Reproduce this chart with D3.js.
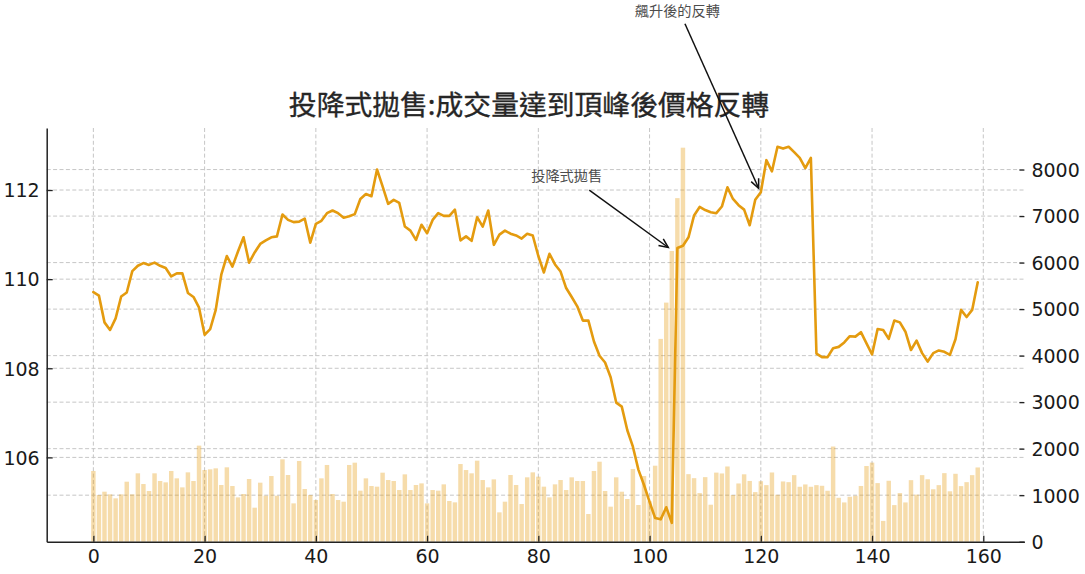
<!DOCTYPE html>
<html>
<head>
<meta charset="utf-8">
<script src="https://cdn.jsdelivr.net/npm/d3@7"></script>
<style>
  html, body { margin: 0; padding: 0; background: #ffffff; }
  svg { display: block; }
</style>
</head>
<body>
<svg id="chart" width="1085" height="574"></svg>
<script>
// ---------------- data ----------------
const titleText = "投降式拋售:成交量達到頂峰後價格反轉";

const price = [
  109.71, 109.63, 109.03, 108.86, 109.12, 109.61, 109.70, 110.18, 110.30, 110.36,
  110.32, 110.37, 110.30, 110.25, 110.06, 110.13, 110.13, 109.69, 109.60, 109.36,
  108.75, 108.88, 109.31, 110.10, 110.52, 110.28, 110.62, 110.94, 110.37, 110.60,
  110.79, 110.87, 110.94, 110.96, 111.45, 111.33, 111.28, 111.29, 111.36, 110.82,
  111.24, 111.31, 111.48, 111.54, 111.48, 111.38, 111.41, 111.46, 111.80, 111.91,
  111.86, 112.46, 112.08, 111.69, 111.78, 111.71, 111.18, 111.09, 110.88, 111.22,
  111.03, 111.33, 111.48, 111.42, 111.42, 111.56, 110.87, 110.96, 110.86, 111.39,
  111.18, 111.54, 110.77, 111.00, 111.09, 111.02, 110.98, 110.91, 111.02, 110.98,
  110.52, 110.15, 110.57, 110.33, 110.17, 109.80, 109.60, 109.39, 109.07, 109.07,
  108.60, 108.28, 108.13, 107.80, 107.23, 107.14, 106.61, 106.24, 105.72, 105.38,
  105.00, 104.64, 104.61, 104.88, 104.53, 110.70, 110.75, 110.94, 111.43, 111.62,
  111.55, 111.50, 111.48, 111.63, 112.06, 111.80, 111.66, 111.56, 111.21, 111.78,
  111.95, 112.67, 112.42, 112.97, 112.93, 112.97, 112.85, 112.72, 112.49, 112.72,
  108.33, 108.25, 108.25, 108.45, 108.48, 108.58, 108.72, 108.71, 108.81, 108.56,
  108.31, 108.88, 108.86, 108.66, 109.07, 109.03, 108.82, 108.41, 108.62, 108.34,
  108.15, 108.34, 108.40, 108.37, 108.30, 108.65, 109.31, 109.15, 109.31, 109.93
];

const volume = [
  1520, 1004, 1075, 1018, 932, 1018, 1290, 1018, 1470, 1240,
  1090, 1470, 1305, 1276, 1520, 1362, 1168, 1491, 1305, 2065,
  1541, 1556, 1577, 1219, 1599, 1197, 953, 1025, 1348, 731,
  1269, 989, 1412, 989, 1771, 1434, 824, 1735, 1133, 1004,
  896, 1362, 1649, 1025, 896, 860, 1649, 1699, 1097, 1362,
  1197, 1183, 1484, 1326, 1305, 1111, 1448, 1111, 1219, 1254,
  824, 1111, 1097, 1233, 875, 846, 1670, 1541, 1470, 1742,
  1326, 1168, 1340, 631, 860, 1434, 1219, 810, 1384, 1491,
  1398, 1183, 953, 1233, 1326, 1111, 1384, 1305, 1305, 595,
  1520, 1720, 1090, 753, 1384, 1075, 918, 1563, 789, 1412,
  870, 1634, 4360, 5140, 6250, 7386, 8470, 1452, 1366, 1045,
  1388, 795, 1485, 1467, 1617, 1002, 1252, 1449, 1306, 1066,
  1300, 1216, 1488, 1009, 1295, 1280, 1431, 1181, 1231, 1181,
  1216, 1202, 1095, 2046, 944, 844, 966, 987, 1198, 1627,
  1700, 1260, 447, 1310, 787, 1045, 844, 1323, 1012, 1431,
  1342, 1127, 1216, 1474, 1084, 1460, 1195, 1280, 1431, 1596
];

const xTicks = [0, 20, 40, 60, 80, 100, 120, 140, 160];
const priceTicks = [106, 108, 110, 112];
const volumeTicks = [0, 1000, 2000, 3000, 4000, 5000, 6000, 7000, 8000];

// annotations, in data units (x index, price)
const annotations = [
  { label: "投降式拋售", tx: 85.1, ty: 112.20, fx: 89.16, fy: 112.00, ax: 103.36, ay: 110.71 },
  { label: "飆升後的反轉", tx: 105.0, ty: 115.90, fx: 106.36, fy: 115.73, ax: 119.61, ay: 112.04 }
];

// ---------------- layout ----------------
const W = 1085, H = 574;
const plot = { left: 46.7, right: 1024.4, top: 128, bottom: 541.7 };
const lineColor = "#E49B0F";
const gridColor = "#c6c6c6";
const numFont = "'DejaVu Sans', sans-serif";
const cjkFont = "'Noto Sans CJK TC', 'Noto Sans CJK SC', sans-serif";

const svg = d3.select("#chart");

// matplotlib-like 5% margins
const barHalf = 0.4;
const xMin = -barHalf, xMax = price.length - 1 + barHalf;
const xPad = (xMax - xMin) * 0.05;
const x = d3.scaleLinear().domain([xMin - xPad, xMax + xPad]).range([plot.left, plot.right]);

const [pMin, pMax] = d3.extent(price);
const pPad = (pMax - pMin) * 0.05;
const yP = d3.scaleLinear().domain([pMin - pPad, pMax + pPad]).range([plot.bottom, plot.top]);

const vMax = d3.max(volume);
const yV = d3.scaleLinear().domain([0, vMax * 1.05]).range([plot.bottom, plot.top]);

// ---------------- grid ----------------
const grid = svg.append("g").attr("stroke", gridColor).attr("stroke-width", 1).attr("stroke-dasharray", "4,2.4");
grid.selectAll("line.vx").data(xTicks).join("line")
  .attr("x1", d => x(d)).attr("x2", d => x(d))
  .attr("y1", plot.top).attr("y2", plot.bottom);
grid.selectAll("line.hp").data(priceTicks).join("line")
  .attr("x1", plot.left).attr("x2", plot.right)
  .attr("y1", d => yP(d)).attr("y2", d => yP(d));
grid.selectAll("line.hv").data(volumeTicks.filter(d => d > 0)).join("line")
  .attr("x1", plot.left).attr("x2", plot.right)
  .attr("y1", d => yV(d)).attr("y2", d => yV(d));

// ---------------- bars ----------------
const bw = x(0.8) - x(0);
svg.append("g").selectAll("rect").data(volume).join("rect")
  .attr("x", (d, i) => x(i) - bw / 2)
  .attr("width", bw)
  .attr("y", d => yV(d))
  .attr("height", d => yV(0) - yV(d))
  .attr("fill", lineColor)
  .attr("fill-opacity", 0.35);

// ---------------- line ----------------
const line = d3.line().x((d, i) => x(i)).y(d => yP(d));
svg.append("path").datum(price)
  .attr("d", line)
  .attr("fill", "none")
  .attr("stroke", lineColor)
  .attr("stroke-width", 2.6)
  .attr("stroke-linejoin", "round")
  .attr("stroke-linecap", "round");

// ---------------- axes ----------------
function styleAxis(g) {
  g.selectAll("text").attr("font-family", numFont).attr("font-size", 19).attr("fill", "#1a1a1a");
  g.selectAll(".tick line").attr("stroke", "#222").attr("stroke-width", 1.3);
  g.select(".domain").attr("stroke", "#222").attr("stroke-width", 1.5);
}

const gLeft = svg.append("g").attr("transform", `translate(${plot.left},0)`)
  .call(d3.axisLeft(yP).tickValues(priceTicks).tickFormat(d3.format("d")).tickSize(-6).tickSizeOuter(0).tickPadding(7));
styleAxis(gLeft);
gLeft.selectAll("text").attr("dy", "0.36em");

const gBottom = svg.append("g").attr("transform", `translate(0,${plot.bottom})`)
  .call(d3.axisBottom(x).tickValues(xTicks).tickFormat(d3.format("d")).tickSize(-6).tickSizeOuter(0).tickPadding(8));
styleAxis(gBottom);

const gRight = svg.append("g").attr("transform", `translate(${plot.right},0)`)
  .call(d3.axisRight(yV).tickValues(volumeTicks).tickFormat(d3.format("d")).tickSize(-5).tickSizeOuter(0).tickPadding(7));
styleAxis(gRight);
gRight.select(".domain").remove();
gRight.selectAll("text").attr("dy", "0.36em");

// ---------------- title ----------------
svg.append("text")
  .attr("x", 529).attr("y", 115)
  .attr("text-anchor", "middle")
  .attr("font-family", cjkFont)
  .attr("font-size", 27.8)
  .attr("fill", "#262626")
  .attr("stroke", "#262626")
  .attr("stroke-width", 0.35)
  .text(titleText);

// ---------------- annotations ----------------
const annG = svg.append("g");
annotations.forEach(a => {
  annG.append("text")
    .attr("x", x(a.tx)).attr("y", yP(a.ty))
    .attr("text-anchor", "middle")
    .attr("font-family", cjkFont)
    .attr("font-size", 14.2)
    .attr("fill", "#4d4d4d")
    .text(a.label);
  const x1 = x(a.fx), y1 = yP(a.fy), x2 = x(a.ax), y2 = yP(a.ay);
  annG.append("line")
    .attr("x1", x1).attr("y1", y1).attr("x2", x2).attr("y2", y2)
    .attr("stroke", "#111").attr("stroke-width", 1.5);
  const ang = Math.atan2(y2 - y1, x2 - x1);
  const hl = 10, spread = 0.42;
  const p1 = [x2 - hl * Math.cos(ang - spread), y2 - hl * Math.sin(ang - spread)];
  const p2 = [x2 - hl * Math.cos(ang + spread), y2 - hl * Math.sin(ang + spread)];
  annG.append("path")
    .attr("d", `M${p1[0]},${p1[1]}L${x2},${y2}L${p2[0]},${p2[1]}`)
    .attr("fill", "none").attr("stroke", "#111").attr("stroke-width", 1.5)
    .attr("stroke-linejoin", "miter");
});
</script>
</body>
</html>
